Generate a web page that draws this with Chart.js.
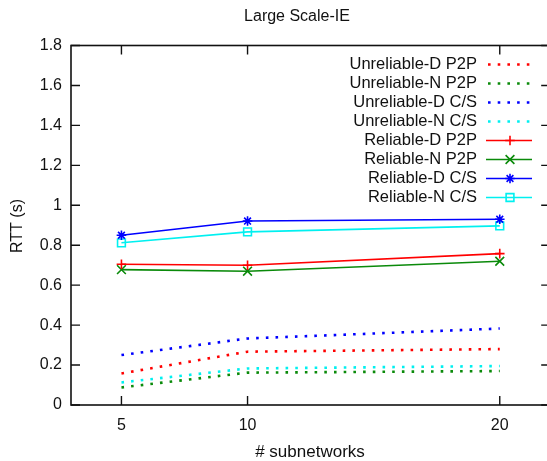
<!DOCTYPE html>
<html>
<head>
<meta charset="utf-8">
<script src="https://cdn.jsdelivr.net/npm/chart.js@4"></script>
<style>
html,body{margin:0;padding:0;background:#fff;overflow:hidden;}
#wrap{width:547px;height:461px;overflow:hidden;}
</style>
</head>
<body>
<div id="wrap"><canvas id="c" width="558" height="461"></canvas></div>
<script>
// ---- data ----
const subnetworks = [5, 10, 20];
const xTicks = [5, 10, 20];
const yTicks = [0, 0.2, 0.4, 0.6, 0.8, 1, 1.2, 1.4, 1.6, 1.8];
const unreliableDP2P = [0.158, 0.267, 0.28];
const unreliableNP2P = [0.088, 0.162, 0.17];
const unreliableDCS = [0.25, 0.333, 0.383];
const unreliableNCS = [0.113, 0.183, 0.195];
const reliableDP2P = [0.705, 0.70, 0.758];
const reliableNP2P = [0.678, 0.67, 0.72];
const reliableDCS = [0.85, 0.921, 0.93];
const reliableNCS = [0.812, 0.867, 0.897];
const seriesNames = ['Unreliable-D P2P','Unreliable-N P2P','Unreliable-D C/S','Unreliable-N C/S',
  'Reliable-D P2P','Reliable-N P2P','Reliable-D C/S','Reliable-N C/S'];

const RED = '#ff0000', GREEN = '#0a8a0a', BLUE = '#0000ff', CYAN = '#00f0f0';
const FONT = '"Liberation Sans", Arial, sans-serif';
const TXT = '#111';

function pts(arr){ return subnetworks.map((x,i)=>({x:x, y:arr[i]})); }

function dotted(label, data, color){
  return {label, data: pts(data), borderColor: color, backgroundColor: color,
    borderWidth: 2.6, borderDash: [2.6, 7.1], pointRadius: 0, borderCapStyle:'butt',
    fill:false, tension:0, _dotted:true};
}
function solid(label, data, color, style, r){
  return {label, data: pts(data), borderColor: color, backgroundColor: 'rgba(0,0,0,0)',
    borderWidth: 1.6, pointStyle: style, pointRadius: r, pointBorderWidth: 1.6,
    pointBorderColor: color, pointBackgroundColor: 'rgba(0,0,0,0)', fill:false, tension:0};
}

const datasets = [
  dotted(seriesNames[0], unreliableDP2P, RED),
  dotted(seriesNames[1], unreliableNP2P, GREEN),
  dotted(seriesNames[2], unreliableDCS, BLUE),
  dotted(seriesNames[3], unreliableNCS, CYAN),
  solid(seriesNames[4], reliableDP2P, RED, 'cross', 4.8),
  solid(seriesNames[5], reliableNP2P, GREEN, 'crossRot', 6.2),
  solid(seriesNames[6], reliableDCS, BLUE, 'star', 4.8),
  solid(seriesNames[7], reliableNCS, CYAN, 'rect', 5.5),
];

const framePlugin = {
  id: 'frame',
  afterDatasetsDraw(chart){
    const {ctx, chartArea:a, scales} = chart;
    const xs = scales.x, ys = scales.y;
    ctx.save();
    ctx.strokeStyle = '#111';
    ctx.lineWidth = 1.6;
    ctx.strokeRect(a.left, a.top, a.right - a.left, a.bottom - a.top);
    ctx.lineWidth = 1.4;
    ctx.beginPath();
    const tl = 9;
    xTicks.forEach(v=>{
      const px = xs.getPixelForValue(v);
      ctx.moveTo(px, a.bottom); ctx.lineTo(px, a.bottom - tl);
      ctx.moveTo(px, a.top); ctx.lineTo(px, a.top + tl);
    });
    yTicks.forEach(v=>{
      const py = ys.getPixelForValue(v);
      ctx.moveTo(a.left, py); ctx.lineTo(a.left + tl, py);
      ctx.moveTo(a.right, py); ctx.lineTo(a.right - tl, py);
    });
    ctx.stroke();
    ctx.restore();
  },
  afterDraw(chart){
    const ctx = chart.ctx;
    ctx.save();
    ctx.fillStyle = TXT;
    ctx.font = '16px ' + FONT;
    ctx.textAlign = 'center';
    ctx.textBaseline = 'middle';
    ctx.fillText('Large Scale-IE', 297, 17);
    ctx.font = '17px ' + FONT;
    ctx.fillText('# subnetworks', 310, 452);
    ctx.save();
    ctx.translate(18, 226);
    ctx.rotate(-Math.PI/2);
    ctx.font = '16px ' + FONT;
    ctx.fillText('RTT (s)', 0, 0);
    ctx.restore();
    // legend
    chart.data.datasets.forEach((ds, i)=>{
      const y = 64.5 + i * 19;
      ctx.font = '16.5px ' + FONT;
      ctx.textAlign = 'right';
      ctx.fillStyle = TXT;
      ctx.fillText(ds.label, 477, y);
      ctx.save();
      ctx.strokeStyle = ds.borderColor;
      ctx.fillStyle = 'rgba(0,0,0,0)';
      ctx.lineWidth = ds.borderWidth;
      if (ds._dotted) ctx.setLineDash(ds.borderDash);
      ctx.beginPath();
      ctx.moveTo(ds._dotted ? 488 : 486, y);
      ctx.lineTo(532, y);
      ctx.stroke();
      ctx.setLineDash([]);
      if (!ds._dotted) {
        Chart.helpers.drawPoint(ctx, {pointStyle: ds.pointStyle, radius: ds.pointRadius,
          borderWidth: ds.pointBorderWidth, rotation: 0}, 510, y);
      }
      ctx.restore();
    });
    ctx.restore();
  }
};

new Chart(document.getElementById('c'), {
  type: 'line',
  data: { datasets },
  options: {
    responsive: false,
    animation: false,
    devicePixelRatio: 1,
    layout: { padding: { top: 45.5, right: 1, left: 0, bottom: 0 } },
    plugins: { legend: { display: false }, title: { display: false }, tooltip: { enabled: false } },
    scales: {
      x: {
        type: 'linear', min: 3, max: 22,
        afterBuildTicks(s){ s.ticks = xTicks.map(v=>({value:v})); },
        afterFit(s){ s.height = 56; },
        grid: { display: false, drawTicks: false },
        border: { display: false },
        ticks: { font: { family: FONT, size: 16 }, color: TXT, padding: 11, maxRotation: 0 }
      },
      y: {
        type: 'linear', min: 0, max: 1.8,
        afterBuildTicks(s){ s.ticks = yTicks.map(v=>({value:v})); },
        afterFit(s){ s.width = 71; },
        grid: { display: false, drawTicks: false },
        border: { display: false },
        ticks: { font: { family: FONT, size: 16 }, color: TXT, padding: 9,
          callback: v => String(Math.round(v*10)/10) }
      }
    }
  },
  plugins: [framePlugin]
});
</script>
</body>
</html>
